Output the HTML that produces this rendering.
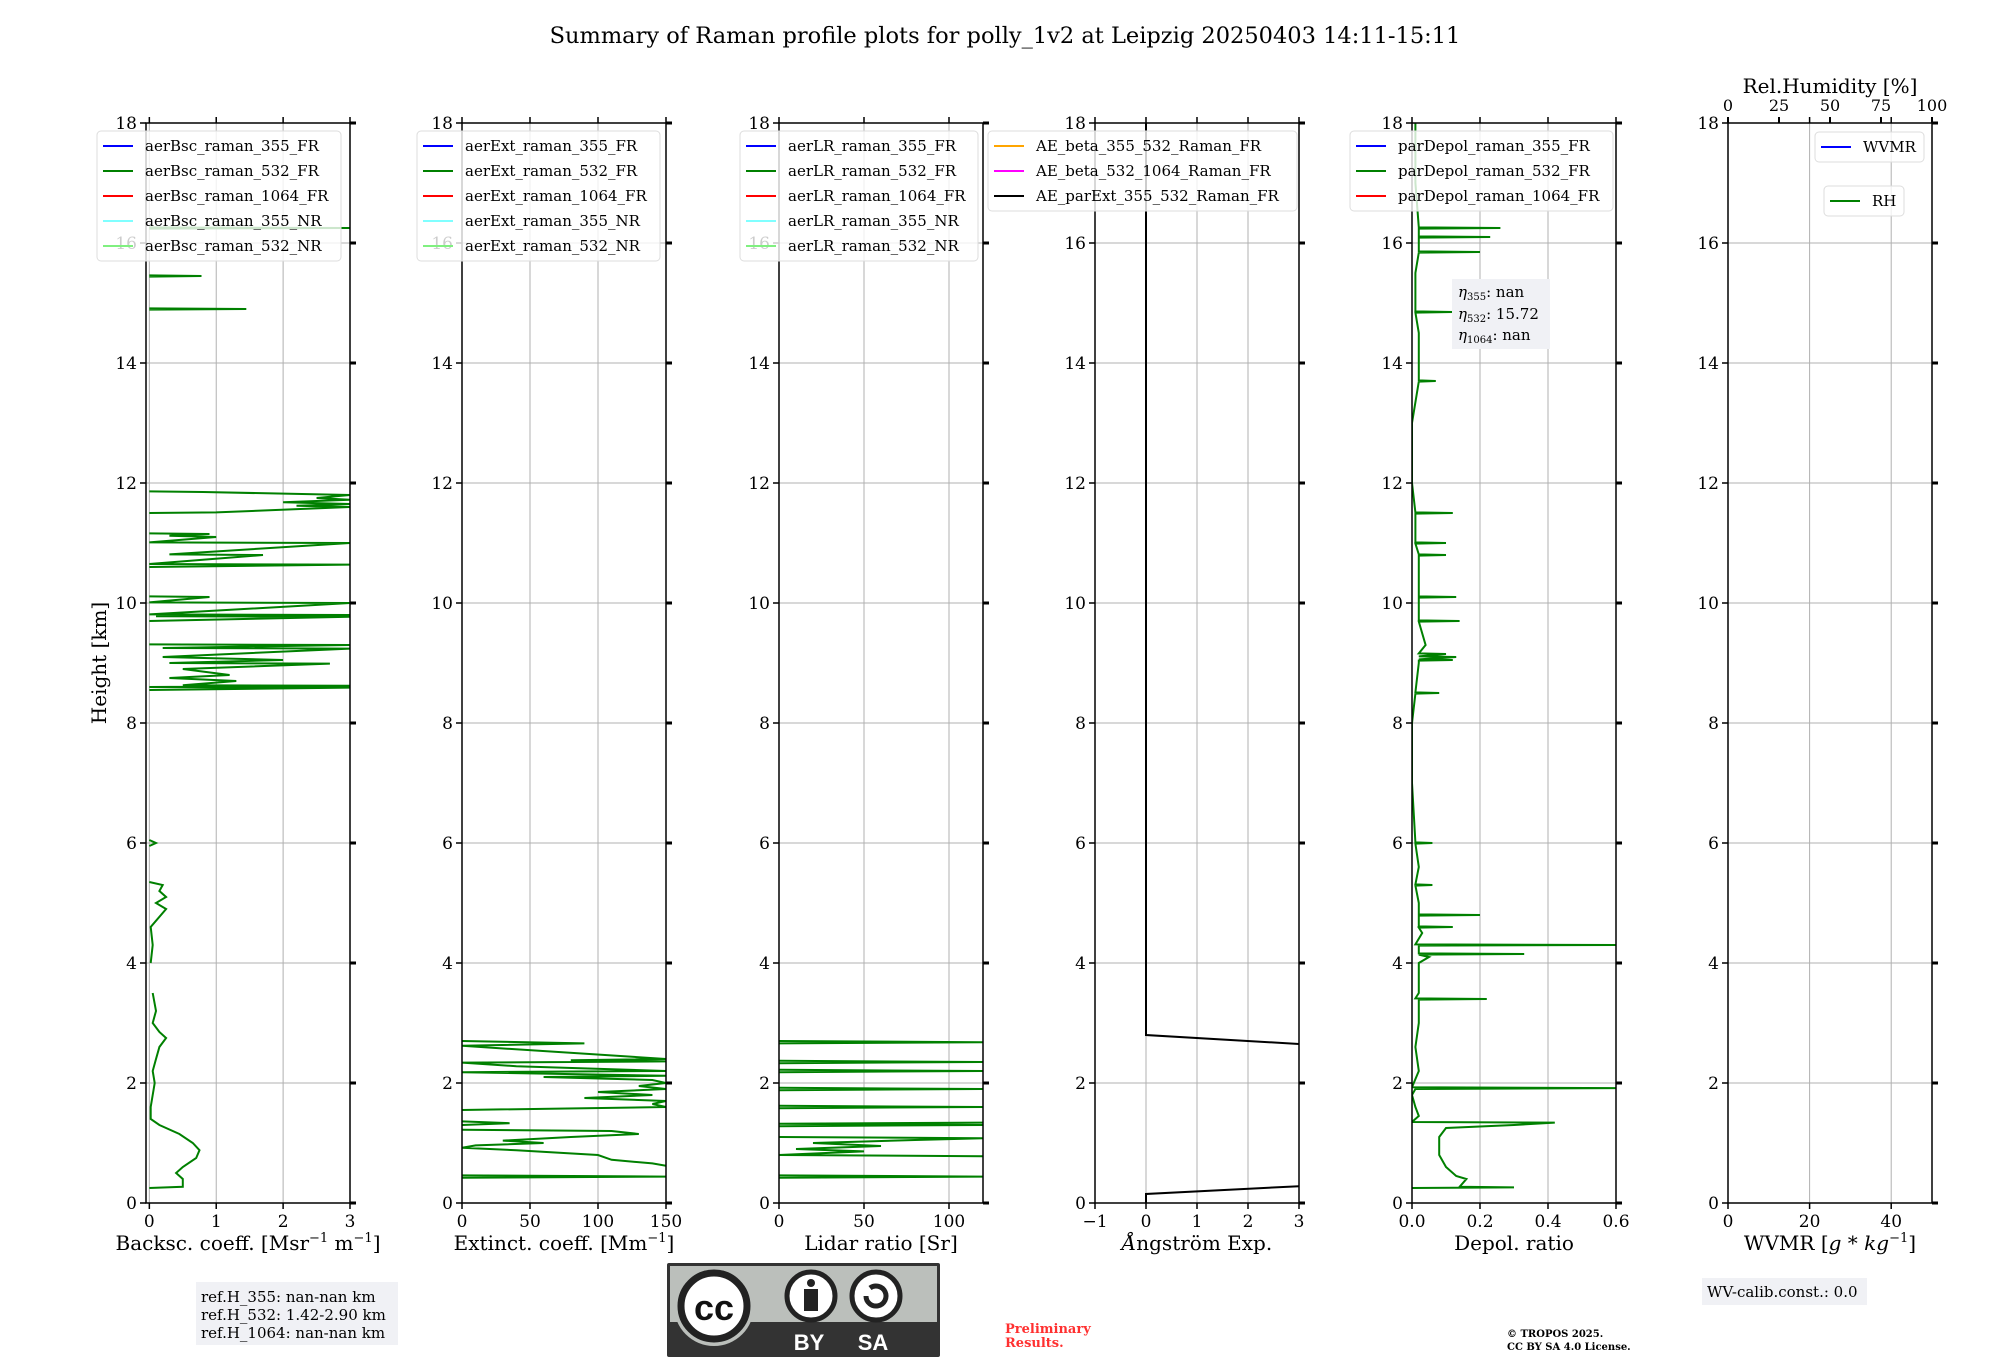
<!DOCTYPE html>
<html><head><meta charset="utf-8">
<style>
html,body{margin:0;padding:0;background:#fff;}
svg{display:block;font-family:"DejaVu Serif","Liberation Serif",serif;}
</style></head>
<body>
<svg id="fig" width="2000" height="1360" viewBox="0 0 2000 1360" xmlns="http://www.w3.org/2000/svg">
<text x="1005" y="43" font-size="22.5" text-anchor="middle">Summary of Raman profile plots for polly_1v2 at Leipzig 20250403 14:11-15:11</text>
<text transform="translate(106,663) rotate(-90)" font-size="20" text-anchor="middle">Height [km]</text>
<g id="panels"></g>
<g>
<rect x="196" y="1282" width="202" height="63" fill="#f0f1f5"/>
<text x="201" y="1302" font-size="15">ref.H_355: nan-nan km</text>
<text x="201" y="1320" font-size="15">ref.H_532: 1.42-2.90 km</text>
<text x="201" y="1338" font-size="15">ref.H_1064: nan-nan km</text>
</g>
<g>
<rect x="1702" y="1278" width="165" height="27" fill="#f0f1f5"/>
<text x="1707" y="1297" font-size="15">WV-calib.const.: 0.0</text>
</g>
<g>
<rect x="1452" y="279" width="98" height="70" fill="#f0f1f5"/>
<text x="1458" y="297" font-size="15"><tspan font-style="italic">η</tspan><tspan font-size="10" dy="3">355</tspan><tspan dy="-3">: nan</tspan></text>
<text x="1458" y="319" font-size="15"><tspan font-style="italic">η</tspan><tspan font-size="10" dy="3">532</tspan><tspan dy="-3">: 15.72</tspan></text>
<text x="1458" y="340" font-size="15"><tspan font-style="italic">η</tspan><tspan font-size="10" dy="3">1064</tspan><tspan dy="-3">: nan</tspan></text>
</g>
<g>
<rect x="667" y="1263" width="273" height="94" fill="#333" rx="2"/>
<rect x="670" y="1266" width="267" height="56" fill="#bbbfbb"/>
<circle cx="714" cy="1306" r="40" fill="#bbbfbb"/>
<circle cx="714" cy="1306" r="33" fill="#fff" stroke="#222" stroke-width="7"/>
<text x="714" y="1320" font-size="36" font-weight="bold" text-anchor="middle" font-family="Liberation Sans,sans-serif" fill="#111">cc</text>
<circle cx="811" cy="1296" r="24" fill="#fff" stroke="#222" stroke-width="5"/>
<circle cx="811" cy="1283" r="4" fill="#222"/>
<rect x="804" y="1289" width="14" height="22" fill="#222"/>
<circle cx="876" cy="1296" r="24" fill="#fff" stroke="#222" stroke-width="5"/>
<path d="M866 1296 a10 10 0 1 0 4 -8" fill="none" stroke="#222" stroke-width="5"/>
<text x="809" y="1350" font-size="22" font-weight="bold" fill="#fff" text-anchor="middle" font-family="Liberation Sans,sans-serif">BY</text>
<text x="873" y="1350" font-size="22" font-weight="bold" fill="#fff" text-anchor="middle" font-family="Liberation Sans,sans-serif">SA</text>
</g>
<text x="1005" y="1333" font-size="13" font-weight="bold" fill="#ff3030">Preliminary</text>
<text x="1005" y="1347" font-size="13" font-weight="bold" fill="#ff3030">Results.</text>
<text x="1507" y="1337" font-size="10" font-weight="bold">© TROPOS 2025.</text>
<text x="1507" y="1350" font-size="10" font-weight="bold">CC BY SA 4.0 License.</text>
</svg>
<script>
// ---- data ----
const heightTicks = [0,2,4,6,8,10,12,14,16,18];
const bscTicks = [0,1,2,3];
const extTicks = [0,50,100,150];
const lrTicks = [0,50,100];
const aeTicks = [-1,0,1,2,3];
const depTicks = [0.0,0.2,0.4,0.6];
const depTickLabels = ["0.0","0.2","0.4","0.6"];
const wvTicks = [0,20,40];
const rhTicks = [0,25,50,75,100];

const bscH = [0.25,0.27,0.4,0.5,0.6,0.75,0.88,1.0,1.15,1.3,1.4,1.6,1.8,2.0,2.2,2.4,2.6,2.75,2.85,3.0,3.2,3.5,null,4.0,4.3,4.6,4.9,5.0,5.1,5.2,5.3,5.35,null,5.95,6.0,6.05,null,8.55,8.59,8.6,8.62,8.63,8.7,8.75,8.8,8.9,8.99,9.0,9.05,9.1,9.24,9.25,9.3,9.31,null,9.7,9.77,9.78,9.8,9.81,10.0,10.01,10.1,10.11,null,10.6,10.64,10.65,10.8,10.81,11.0,11.01,11.1,11.12,11.15,11.16,null,11.5,11.51,11.6,11.62,11.65,11.68,11.72,11.75,11.8,11.85,11.86,null,14.89,14.9,14.91,null,15.44,15.45,15.46,null,16.24,16.25,16.26];
const bscV = [0,0.5,0.5,0.4,0.5,0.7,0.75,0.65,0.45,0.15,0.02,0.02,0.05,0.08,0.05,0.1,0.15,0.25,0.15,0.05,0.1,0.05,null,0.02,0.05,0.02,0.25,0.1,0.25,0.15,0.2,0,null,0,0.1,0,null,0,3,0,3,0.5,1.3,0.3,1.2,0.5,2.7,0.3,2.0,0.2,3,0.2,3,0,null,0,3,0.1,3,0,3,0,0.9,0,null,0,3,0,1.7,0.3,3,0,1.0,0.3,0.9,0,null,0,1.0,3,2.2,3,2.0,3,2.5,3,0.8,0,null,0,1.45,0,null,0,0.78,0,null,0,3,0];

const extH = [0.42,0.44,0.46,null,0.62,0.66,0.72,0.8,0.88,0.92,0.96,1.0,1.04,1.1,1.15,1.2,1.22,null,1.3,1.33,1.36,null,1.55,1.6,1.65,1.7,1.75,1.8,1.85,1.9,1.95,2.0,2.05,2.1,2.12,2.18,2.2,2.28,2.34,2.36,2.38,2.4,2.62,2.66,2.7];
const extV = [0,150,0,null,150,140,110,100,40,0,10,60,30,80,130,110,0,null,0,35,0,null,0,150,140,150,90,140,100,150,130,150,140,60,150,0,150,40,0,150,80,150,0,90,0];

const lrH = [0.42,0.44,0.46,null,0.78,0.8,0.86,0.9,0.95,1.0,1.05,1.08,1.1,null,1.28,1.3,1.32,1.34,null,1.58,1.6,1.62,null,1.88,1.9,1.92,null,2.18,2.2,2.22,null,2.33,2.35,2.37,null,2.66,2.68,2.7];
const lrV = [0,120,0,null,120,0,50,10,60,20,80,120,0,null,0,120,0,120,null,0,120,0,null,0,120,0,null,0,120,0,null,0,120,0,null,0,120,0];

const aeH = [0,0.15,0.28,null,18,2.8,2.65];
const aeV = [0,0,3,null,0,0,3];

const depH = [0.25,0.26,0.27,0.4,0.45,0.6,0.8,1.1,1.25,1.3,1.34,1.35,1.45,1.6,1.8,1.9,1.915,1.93,2.2,2.6,3.0,3.1,3.39,3.4,3.41,3.5,4.0,4.1,4.14,4.15,4.16,4.29,4.3,4.31,4.5,4.59,4.6,4.61,4.79,4.8,4.81,5.0,5.29,5.3,5.31,5.6,5.99,6.0,6.01,7.0,8.0,8.49,8.5,8.51,9.0,9.04,9.05,9.06,9.1,9.11,9.15,9.16,9.3,9.69,9.7,9.71,10.09,10.1,10.11,10.79,10.8,10.81,10.99,11.0,11.01,11.49,11.5,11.51,12.0,13.0,13.69,13.7,13.71,14.5,14.84,14.85,14.86,15.5,15.84,15.85,15.86,16.09,16.1,16.11,16.24,16.25,16.26,17.0,18.0];
const depV = [0,0.3,0.14,0.16,0.13,0.1,0.08,0.08,0.1,0.3,0.42,0,0.02,0.01,0.0,0.01,0.6,0,0.02,0.01,0.02,0.02,0.02,0.22,0.01,0.02,0.02,0.05,0.02,0.33,0.02,0.02,0.6,0.01,0.03,0.02,0.12,0.02,0.02,0.2,0.02,0.02,0.01,0.06,0.01,0.02,0.01,0.06,0.01,0.0,0.0,0.01,0.08,0.01,0.02,0.02,0.12,0.02,0.13,0.02,0.1,0.02,0.04,0.02,0.14,0.02,0.02,0.13,0.02,0.02,0.1,0.02,0.01,0.1,0.01,0.01,0.12,0.01,0.0,0.0,0.02,0.07,0.02,0.02,0.01,0.12,0.01,0.01,0.02,0.2,0.02,0.02,0.23,0.02,0.02,0.26,0.02,0.01,0.01];

const bscLegend = ["aerBsc_raman_355_FR","aerBsc_raman_532_FR","aerBsc_raman_1064_FR","aerBsc_raman_355_NR","aerBsc_raman_532_NR"];
const extLegend = ["aerExt_raman_355_FR","aerExt_raman_532_FR","aerExt_raman_1064_FR","aerExt_raman_355_NR","aerExt_raman_532_NR"];
const lrLegend = ["aerLR_raman_355_FR","aerLR_raman_532_FR","aerLR_raman_1064_FR","aerLR_raman_355_NR","aerLR_raman_532_NR"];
const aeLegend = ["AE_beta_355_532_Raman_FR","AE_beta_532_1064_Raman_FR","AE_parExt_355_532_Raman_FR"];
const depLegend = ["parDepol_raman_355_FR","parDepol_raman_532_FR","parDepol_raman_1064_FR"];
const colors5 = ["#0000ff","#008000","#ff0000","#80ffff","#80f080"];
const colorsAE = ["#ffa500","#ff00ff","#000000"];

// ---- layout ----
const NS="http://www.w3.org/2000/svg";
const TOP=123, BOT=1203, PW=204;
const root=document.getElementById('panels');
function mk(tag,attrs,parent){const e=document.createElementNS(NS,tag);for(const k in attrs)e.setAttribute(k,attrs[k]);(parent||root).appendChild(e);return e;}
function yS(h){return BOT-(h-0)/(18-0)*(BOT-TOP);}

function panel(name,left,xmin,xmax,xticks,xlabels,xtitle){
  const g=mk('g',{});
  
  
  const xS=v=>left+(v-xmin)/(xmax-xmin)*PW;
  xticks.forEach(t=>{const gl=mk('line',{x1:xS(t),x2:xS(t),y1:TOP,y2:BOT,stroke:'#b0b0b0','stroke-width':1},g);
    });
  heightTicks.forEach(t=>{const gl=mk('line',{x1:left,x2:left+PW,y1:yS(t),y2:yS(t),stroke:'#b0b0b0','stroke-width':1},g);
    });
  heightTicks.forEach(t=>{
    mk('line',{x1:left-6,x2:left,y1:yS(t),y2:yS(t),stroke:'#000','stroke-width':1.5},g);
    mk('line',{x1:left+PW,x2:left+PW+6,y1:yS(t),y2:yS(t),stroke:'#000','stroke-width':3},g);
    const tl=mk('text',{x:left-9,y:yS(t)+6,'font-size':17,'text-anchor':'end'},g);
    tl.textContent=t;
    
  });
  xticks.forEach((t,i)=>{
    mk('line',{x1:xS(t),x2:xS(t),y1:BOT,y2:BOT+6,stroke:'#000','stroke-width':1.5},g);
    mk('line',{x1:xS(t),x2:xS(t),y1:TOP-6,y2:TOP,stroke:'#000','stroke-width':1.5},g);
    const tl=mk('text',{x:xS(t),y:BOT+24,'font-size':17,'text-anchor':'middle'},g);
    tl.textContent=xlabels[i];
    
  });
  const xt=mk('text',{x:left+PW/2,y:1250,'font-size':20,'text-anchor':'middle'},g);
  xt.innerHTML=xtitle;
  
  return {g,xS};
}
function series(p,H,V,color,name,w){
  let d='',pen=false;
  for(let i=0;i<H.length;i++){
    if(H[i]===null||V[i]===null){pen=false;continue;}
    d+=(pen?'L':'M')+p.xS(V[i]).toFixed(1)+' '+yS(H[i]).toFixed(1)+' ';pen=true;
  }
  const e=mk('path',{d:d,fill:'none',stroke:color,'stroke-width':w||2,'clip-path':'url(#c'+p.id+')'},p.g);
  
  
}
function frame(p,left){
  mk('rect',{x:left,y:TOP,width:PW,height:BOT-TOP,fill:'none',stroke:'#000','stroke-width':1.5},p.g);
}
function legend(p,x,y,w,labels,cols,name){
  const lg=mk('g',{},p.g);
  
  
  mk('rect',{x:x,y:y,width:w,height:labels.length*25+5,fill:'#fff','fill-opacity':0.8,stroke:'#ddd',rx:4},lg);
  labels.forEach((l,i)=>{
    const cy=y+15+i*25;
    mk('line',{x1:x+6,x2:x+36,y1:cy,y2:cy,stroke:cols[i],'stroke-width':2},lg);
    const t=mk('text',{x:x+48,y:cy+5,'font-size':15},lg);t.textContent=l;
    
  });
}
let defs=mk('defs',{});
const lefts=[146,462,779,1095,1412,1728];
lefts.forEach((l,i)=>{const cp=mk('clipPath',{id:'c'+i},defs);mk('rect',{x:l,y:TOP,width:PW,height:BOT-TOP},cp);});

let p;
p=panel('backscatter',lefts[0],-0.05,3,bscTicks,bscTicks.map(String),'Backsc. coeff. [Msr<tspan font-size="13" dy="-8">−1</tspan><tspan dy="8"> m</tspan><tspan font-size="13" dy="-8">−1</tspan><tspan dy="8">]</tspan>');p.id=0;
series(p,bscH,bscV,'#008000','bsc-532-fr-line');frame(p,lefts[0]);
legend(p,97,131,244,bscLegend,colors5,'backscatter-legend');

p=panel('extinction',lefts[1],0,150,extTicks,extTicks.map(String),'Extinct. coeff. [Mm<tspan font-size="13" dy="-8">−1</tspan><tspan dy="8">]</tspan>');p.id=1;
series(p,extH,extV,'#008000','ext-532-fr-line');frame(p,lefts[1]);
legend(p,417,131,243,extLegend,colors5,'extinction-legend');

p=panel('lidar-ratio',lefts[2],0,120,lrTicks,lrTicks.map(String),'Lidar ratio [Sr]');p.id=2;
series(p,lrH,lrV,'#008000','lr-532-fr-line');frame(p,lefts[2]);
legend(p,740,131,238,lrLegend,colors5,'lidar-ratio-legend');

p=panel('angstrom',lefts[3],-1,3,aeTicks,aeTicks.map(v=>v<0?'−'+(-v):String(v)),'<tspan font-style="italic">Å</tspan>ngström Exp.');p.id=3;
series(p,aeH,aeV,'#000000','ae-parext-355-532-line');frame(p,lefts[3]);
legend(p,988,131,309,aeLegend,colorsAE,'angstrom-legend');

p=panel('depol',lefts[4],0,0.6,depTicks,depTickLabels,'Depol. ratio');p.id=4;
series(p,depH,depV,'#008000','pardepol-532-fr-line');frame(p,lefts[4]);
legend(p,1350,131,263,depLegend,colors5.slice(0,3),'depol-legend');

p=panel('wvmr',lefts[5],0,50,wvTicks,wvTicks.map(String),'WVMR [<tspan font-style="italic">g</tspan> * <tspan font-style="italic">kg</tspan><tspan font-size="13" dy="-8">−1</tspan><tspan dy="8">]</tspan>');p.id=5;
frame(p,lefts[5]);
const rhS=v=>lefts[5]+v/100*PW;
rhTicks.forEach(t=>{
  mk('line',{x1:rhS(t),x2:rhS(t),y1:TOP-6,y2:TOP,stroke:'#000','stroke-width':2},p.g);
  const tl=mk('text',{x:rhS(t),y:TOP-12,'font-size':16,'text-anchor':'middle'},p.g);tl.textContent=t;
  
});
const rt=mk('text',{x:lefts[5]+PW/2,y:93,'font-size':20,'text-anchor':'middle'},p.g);rt.textContent='Rel.Humidity [%]';

legend(p,1815,132,109,['WVMR'],['#0000ff'],'wvmr-legend');
legend(p,1824,186,80,['RH'],['#008000'],'rh-legend');
</script>
</body></html>
